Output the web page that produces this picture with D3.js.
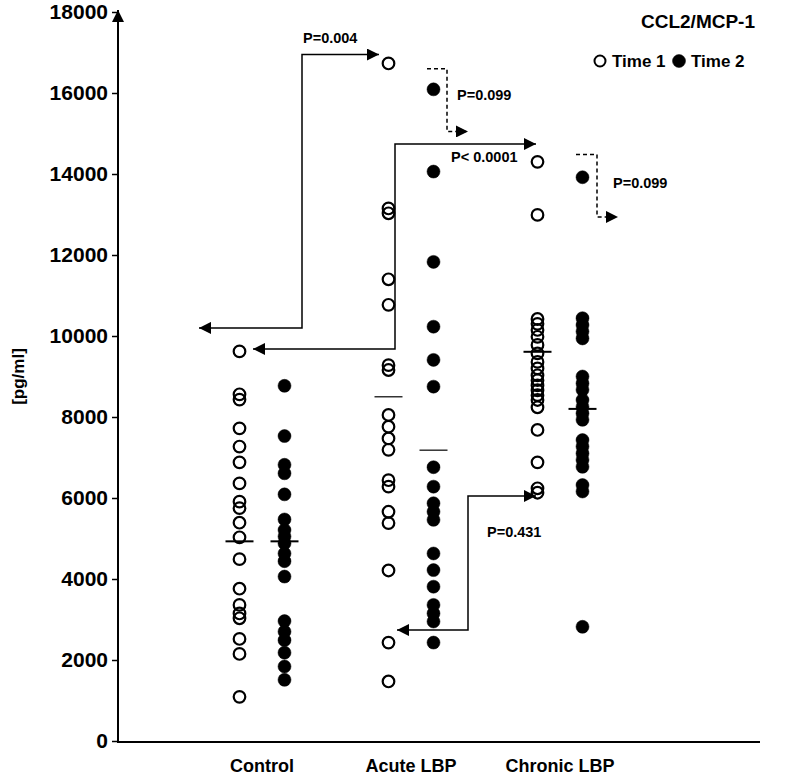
<!DOCTYPE html>
<html>
<head>
<meta charset="utf-8">
<script src="https://cdn.jsdelivr.net/npm/d3@7"></script>
<style>
  body { margin: 0; background: #fff; }
  text { font-family: Arial, "Liberation Sans", sans-serif; font-weight: bold; fill: #000; }
</style>
</head>
<body>
<div id="chart"></div>
<script>
// groups and time points
const groups = ["Control", "Acute LBP", "Chronic LBP"];
const times = ["Time 1", "Time 2"];

// values (pg/ml)
const controlT1 = [9620, 8560, 8430, 7720, 7270, 6880, 6360, 5910, 5750, 5390, 5030, 4490, 3760, 3360, 3150, 3030, 2520, 2150, 1090];
const controlT2 = [8770, 7530, 6820, 6610, 6090, 5470, 5210, 5050, 4880, 4630, 4440, 4060, 2960, 2700, 2490, 2180, 1840, 1510];
const acuteT1 = [16730, 13150, 13030, 11400, 10770, 9280, 9160, 8050, 7760, 7470, 7190, 6440, 6280, 5660, 5380, 4210, 2430, 1470];
const acuteT2 = [16090, 14060, 11830, 10230, 9410, 8750, 6760, 6280, 5870, 5660, 5460, 4630, 4220, 3810, 3360, 3150, 2950, 2430];
const chronicT1 = [14300, 12990, 10420, 10300, 10150, 9980, 9780, 9570, 9360, 9200, 9030, 8910, 8780, 8660, 8540, 8420, 8240, 7680, 6880, 6240, 6130];
const chronicT2 = [13920, 10440, 10270, 10110, 9940, 9000, 8830, 8670, 8420, 8250, 8090, 7930, 7430, 7270, 7100, 6940, 6770, 6320, 6160, 2820];

// horizontal bars (group centre lines)
const centreT1 = [4930, 8500, 9610];
const centreT2 = [4930, 7180, 8200];

const yTicks = [0, 2000, 4000, 6000, 8000, 10000, 12000, 14000, 16000, 18000];

const series = [
  {group: "Control", time: "Time 1", values: controlT1},
  {group: "Control", time: "Time 2", values: controlT2},
  {group: "Acute LBP", time: "Time 1", values: acuteT1},
  {group: "Acute LBP", time: "Time 2", values: acuteT2},
  {group: "Chronic LBP", time: "Time 1", values: chronicT1},
  {group: "Chronic LBP", time: "Time 2", values: chronicT2}
];

// comparison brackets: points are [group, x offset from group centre, value]
const brackets = [
  {label: "P=0.004", dashed: false, startHead: true,
   pts: [["Control", -63, 10200], ["Control", 40, 10200], ["Control", 40, 16950], ["Acute LBP", -32, 16950]],
   text: ["Control", 41, 17230]},
  {label: "P=0.099", dashed: true, startHead: false,
   pts: [["Acute LBP", 16, 16600], ["Acute LBP", 36, 16600], ["Acute LBP", 36, 15050], ["Acute LBP", 57, 15050]],
   text: ["Acute LBP", 46, 15830]},
  {label: "P< 0.0001", dashed: false, startHead: true,
   pts: [["Control", -9, 9680], ["Acute LBP", -16, 9680], ["Acute LBP", -16, 14740], ["Chronic LBP", -24, 14740]],
   text: ["Acute LBP", 40, 14300]},
  {label: "P=0.099", dashed: true, startHead: false,
   pts: [["Chronic LBP", 16, 14480], ["Chronic LBP", 37, 14480], ["Chronic LBP", 37, 12940], ["Chronic LBP", 58, 12940]],
   text: ["Chronic LBP", 53, 13650]},
  {label: "P=0.431", dashed: false, startHead: true,
   pts: [["Chronic LBP", -24, 6050], ["Acute LBP", 57, 6050], ["Acute LBP", 57, 2740], ["Acute LBP", -14, 2740]],
   text: ["Acute LBP", 76, 5040]}
];

const width = 800, height = 775;

const svg = d3.select("#chart").append("svg")
  .attr("width", width)
  .attr("height", height);

const y = d3.scaleLinear().domain([0, 18000]).range([741, 12]);
const xg = d3.scalePoint().domain(groups).range([262, 560]);
const xt = d3.scalePoint().domain(times).range([-22.5, 22.5]);

const defs = svg.append("defs");
defs.append("marker")
  .attr("id", "head")
  .attr("viewBox", "0 0 10 10")
  .attr("refX", 10).attr("refY", 5)
  .attr("markerWidth", 17).attr("markerHeight", 12)
  .attr("markerUnits", "userSpaceOnUse")
  .attr("orient", "auto-start-reverse")
  .append("path")
  .attr("d", "M0,0L10,5L0,10Z")
  .attr("fill", "#000");
defs.append("marker")
  .attr("id", "axhead")
  .attr("viewBox", "0 0 10 10")
  .attr("refX", 10).attr("refY", 5)
  .attr("markerWidth", 16).attr("markerHeight", 12)
  .attr("markerUnits", "userSpaceOnUse")
  .attr("orient", "auto")
  .append("path")
  .attr("d", "M0,0L10,5L0,10Z")
  .attr("fill", "#000");

// y axis
const yAxis = svg.append("g")
  .attr("transform", "translate(118,0)")
  .call(d3.axisLeft(y).tickValues(yTicks).tickSize(6).tickPadding(4).tickFormat(d3.format("d")));
yAxis.select(".domain").remove();
yAxis.attr("font-size", 21).attr("font-family", null);
yAxis.selectAll(".tick line").attr("stroke", "#000").attr("stroke-width", 1.5);
yAxis.selectAll(".tick text")
  .style("font-size", "21px")
  .style("font-family", "Arial, 'Liberation Sans', sans-serif")
  .style("font-weight", "bold");

svg.append("line")
  .attr("x1", 118).attr("x2", 118)
  .attr("y1", y(0)).attr("y2", y(18000) - 2)
  .attr("stroke", "#000").attr("stroke-width", 2)
  .attr("marker-end", "url(#axhead)");

// x axis baseline
svg.append("line")
  .attr("x1", 117).attr("x2", 760)
  .attr("y1", y(0) + 1).attr("y2", y(0) + 1)
  .attr("stroke", "#000").attr("stroke-width", 2);

svg.append("g").selectAll("text")
  .data(groups)
  .join("text")
  .attr("x", d => xg(d))
  .attr("y", 772)
  .attr("text-anchor", "middle")
  .style("font-size", "18px")
  .text(d => d);

svg.append("text")
  .attr("transform", `translate(24,${y(9000)}) rotate(-90)`)
  .attr("text-anchor", "middle")
  .style("font-size", "17px")
  .text("[pg/ml]");

// brackets
const bx = p => xg(p[0]) + p[1];
const line = d3.line().x(bx).y(p => y(p[2]));

const br = svg.append("g");
br.selectAll("path")
  .data(brackets)
  .join("path")
  .attr("d", d => line(d.pts))
  .attr("fill", "none")
  .attr("stroke", "#000")
  .attr("stroke-width", 1.5)
  .attr("stroke-dasharray", d => d.dashed ? "4,3" : null)
  .attr("marker-end", "url(#head)")
  .attr("marker-start", d => d.startHead ? "url(#head)" : null);

br.selectAll("text")
  .data(brackets)
  .join("text")
  .attr("x", d => bx(d.text))
  .attr("y", d => y(d.text[2]))
  .style("font-size", "14.5px")
  .text(d => d.label);

// points
const pts = svg.append("g");
series.forEach(s => {
  const cx = xg(s.group) + xt(s.time);
  pts.append("g").selectAll("circle")
    .data(s.values)
    .join("circle")
    .attr("cx", cx)
    .attr("cy", d => y(d))
    .attr("r", s.time === "Time 1" ? 5.8 : 6.5)
    .attr("fill", s.time === "Time 1" ? "#fff" : "#000")
    .attr("fill-opacity", s.time === "Time 1" ? 0 : 1)
    .attr("stroke", "#000")
    .attr("stroke-width", s.time === "Time 1" ? 2.2 : 0.5);
});

// centre bars
const bars = groups.flatMap((g, i) => [
  {g: g, t: "Time 1", v: centreT1[i]},
  {g: g, t: "Time 2", v: centreT2[i]}
]);
svg.append("g").selectAll("line")
  .data(bars)
  .join("line")
  .attr("x1", d => xg(d.g) + xt(d.t) - 14)
  .attr("x2", d => xg(d.g) + xt(d.t) + 14)
  .attr("y1", d => y(d.v))
  .attr("y2", d => y(d.v))
  .attr("stroke", d => d.g === "Acute LBP" ? "#333" : "#000")
  .attr("stroke-width", d => d.g === "Acute LBP" ? 1.5 : 2);

// title and legend
svg.append("text")
  .attr("x", 698).attr("y", 28)
  .attr("text-anchor", "middle")
  .style("font-size", "19px")
  .text("CCL2/MCP-1");

const legend = svg.append("g").attr("transform", "translate(600,61)");
times.forEach((t, i) => {
  const lg = legend.append("g").attr("transform", `translate(${i * 79},0)`);
  lg.append("circle")
    .attr("cx", 0).attr("cy", 0)
    .attr("r", i === 0 ? 5.5 : 6.5)
    .attr("fill", i === 0 ? "#fff" : "#000")
    .attr("stroke", "#000")
    .attr("stroke-width", i === 0 ? 2 : 0.5);
  lg.append("text")
    .attr("x", 12).attr("y", 6)
    .style("font-size", "17px")
    .text(t);
});
</script>
</body>
</html>
